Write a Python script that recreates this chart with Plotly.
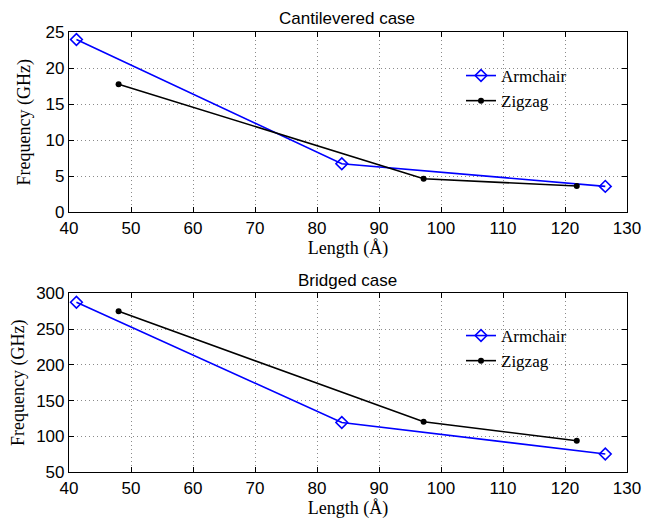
import plotly.graph_objects as go

# Data
arm_len = [41.2, 84.0, 126.5]
zig_len = [48.0, 97.2, 121.9]
cant_arm = [24.0, 6.75, 3.6]
cant_zig = [17.8, 4.65, 3.65]
brid_arm = [287.5, 119.5, 75.5]
brid_zig = [275.0, 120.5, 94.0]

titles = ["Cantilevered case", "Bridged case"]
xlabel = "Length (Å)"
ylabel = "Frequency (GHz)"

W, H = 656, 519
OFF = 8  # page body margin
blue = "#0000ff"
black = "#000000"

def px(x):
    return (x - OFF) / W

def py(y):
    return 1 - (y - OFF) / H

fig = go.Figure()

def add_pair(xa, ya, yarm, yzig, leg):
    fig.add_trace(go.Scatter(x=arm_len, y=yarm, mode="lines+markers", name="Armchair",
                             line=dict(color=blue, width=1.6),
                             marker=dict(symbol="diamond-open", size=9, color=blue, line=dict(width=1.6, color=blue)),
                             xaxis=xa, yaxis=ya, legend=leg))
    fig.add_trace(go.Scatter(x=zig_len, y=yzig, mode="lines+markers", name="Zigzag",
                             line=dict(color=black, width=1.6),
                             marker=dict(symbol="circle", size=6, color=black),
                             xaxis=xa, yaxis=ya, legend=leg))

add_pair("x", "y", cant_arm, cant_zig, "legend")
add_pair("x2", "y2", brid_arm, brid_zig, "legend2")

xdom = [px(69), px(627)]
top_dom = [py(212.3), py(32.3)]
bot_dom = [py(472.3), py(293.3)]

tickfont = dict(family="Liberation Sans, Arial", size=17, color="black")
labfont = dict(family="Liberation Serif, Times New Roman", size=18, color="black")

common = dict(showline=True, linecolor="black", linewidth=1.2, mirror="ticks",
              ticks="inside", ticklen=5, tickcolor="black",
              showgrid=True, gridcolor="#8a8a8a", griddash="1px,3px", gridwidth=1,
              zeroline=False, tickfont=tickfont, automargin=False)

def xaxis(anchor):
    return dict(domain=xdom, range=[40, 130], dtick=10, tick0=40, anchor=anchor,
                title=dict(text=xlabel, font=labfont, standoff=3), **common)

def yaxis(anchor, dom, rng, dt):
    return dict(domain=dom, range=rng, dtick=dt, anchor=anchor,
                title=dict(text=ylabel, font=labfont, standoff=10), **common)

legfont = dict(family="Liberation Serif, Times New Roman", size=17, color="black")

fig.update_layout(
    width=W, height=H,
    margin=dict(l=0, r=0, t=0, b=0),
    paper_bgcolor="white", plot_bgcolor="white",
    xaxis=xaxis("y"),
    yaxis=yaxis("x", top_dom, [0, 25], 5),
    xaxis2=xaxis("y2"),
    yaxis2=yaxis("x2", bot_dom, [50, 300], 50),
    legend=dict(x=px(461), y=py(58), xanchor="left", yanchor="top",
                bgcolor="rgba(0,0,0,0)", font=legfont, itemwidth=30,
                tracegroupgap=0),
    legend2=dict(x=px(461), y=py(260 + 58), xanchor="left", yanchor="top",
                 bgcolor="rgba(0,0,0,0)", font=legfont, itemwidth=30,
                 tracegroupgap=0),
    annotations=[
        dict(text=titles[0], x=px(347), y=py(19), xref="paper", yref="paper",
             xanchor="center", yanchor="middle",
             showarrow=False, font=dict(family="Liberation Sans, Arial", size=17, color="black")),
        dict(text=titles[1], x=px(347), y=py(280), xref="paper", yref="paper",
             xanchor="center", yanchor="middle",
             showarrow=False, font=dict(family="Liberation Sans, Arial", size=17, color="black")),
    ],
)

fig.write_html("out.html")
